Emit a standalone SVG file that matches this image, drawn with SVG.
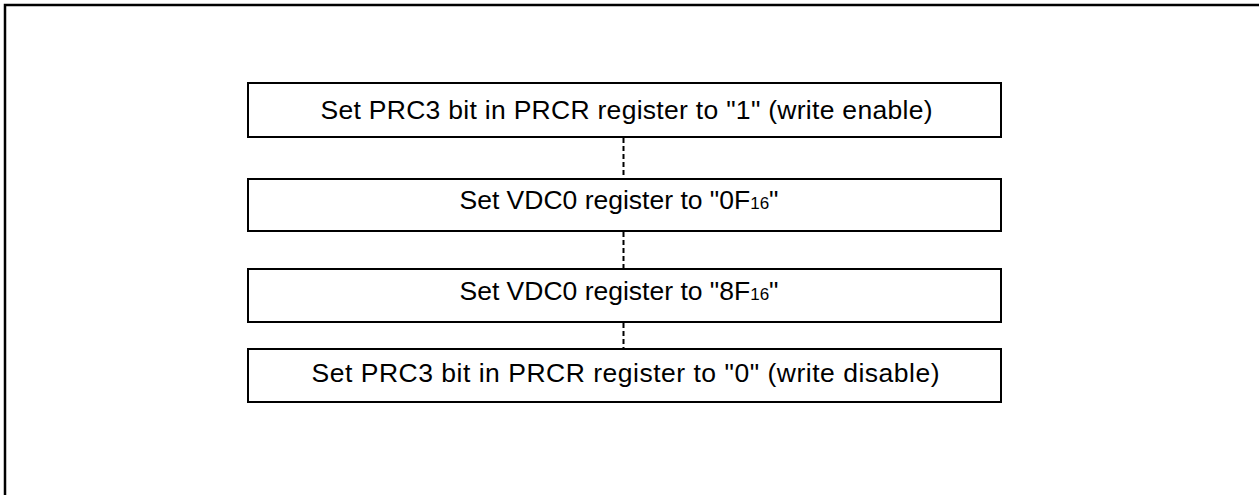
<svg xmlns="http://www.w3.org/2000/svg" width="1259" height="495" viewBox="0 0 1259 495">
<style>
.box{fill:#fff;stroke:#000;stroke-width:2}
.t{font-family:"Liberation Sans",Arial,sans-serif;font-size:26.5px;fill:#000;text-anchor:middle}
.sub{font-size:17px}
.conn{stroke:#000;stroke-width:2;stroke-dasharray:5 3;fill:none}
</style>
<rect x="0" y="0" width="1259" height="495" fill="#fff"/>
<rect x="5" y="5" width="1300" height="520" fill="none" stroke="#000" stroke-width="2.5"/>
<g id="connectors">
<line class="conn" x1="623.5" y1="138" x2="623.5" y2="178"/>
<line class="conn" x1="623.5" y1="232" x2="623.5" y2="268"/>
<line class="conn" x1="623.5" y1="323" x2="623.5" y2="348"/>
</g>
<g id="n1">
<rect class="box" x="248" y="83" width="753" height="54"/>
<text class="t" x="626.5" y="118.5" textLength="612" lengthAdjust="spacing">Set PRC3 bit in PRCR register to "1" (write enable)</text>
</g>
<g id="n2">
<rect class="box" x="248" y="179" width="753" height="52"/>
<text class="t" x="619" y="208.5">Set VDC0 register to "0F<tspan class="sub">16</tspan>"</text>
</g>
<g id="n3">
<rect class="box" x="248" y="269" width="753" height="53"/>
<text class="t" x="619" y="300">Set VDC0 register to "8F<tspan class="sub">16</tspan>"</text>
</g>
<g id="n4">
<rect class="box" x="248" y="349" width="753" height="53"/>
<text class="t" x="625.5" y="382" textLength="628" lengthAdjust="spacing">Set PRC3 bit in PRCR register to "0" (write disable)</text>
</g>
</svg>
